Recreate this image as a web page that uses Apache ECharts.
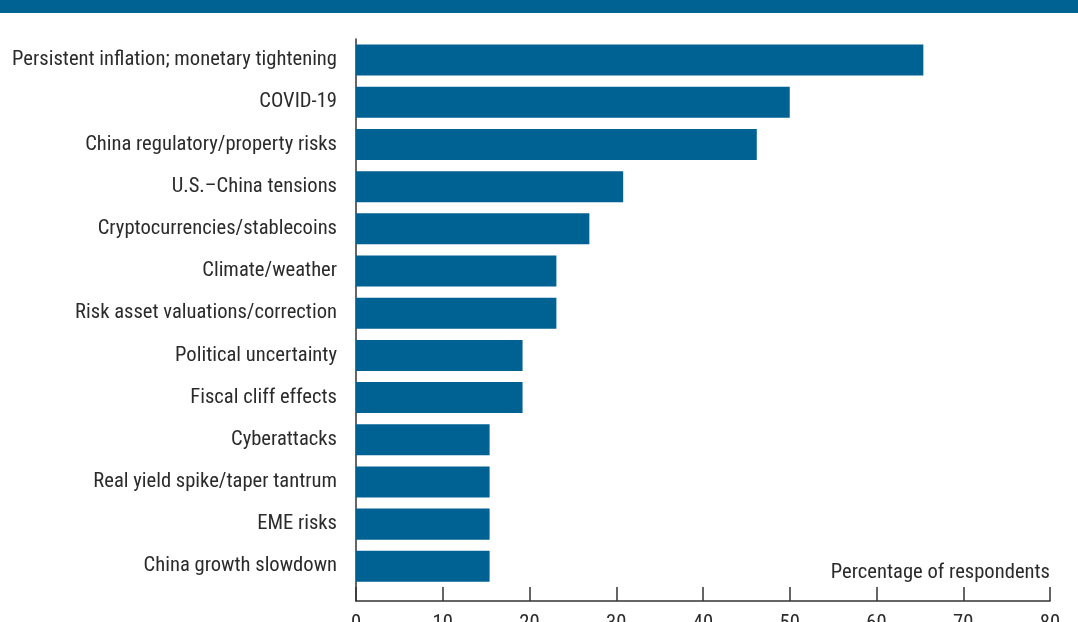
<!DOCTYPE html>
<html>
<head>
<meta charset="utf-8">
<script src="https://cdn.jsdelivr.net/npm/echarts@6/dist/echarts.min.js"></script>
<style>html,body{margin:0;padding:0;background:#fff;}#c{width:1078px;height:622px;}</style>
</head>
<body>
<div id="c"></div>
<script>
const categories = [
  "Persistent inflation; monetary tightening",
  "COVID-19",
  "China regulatory/property risks",
  "U.S.\u2013China tensions",
  "Cryptocurrencies/stablecoins",
  "Climate/weather",
  "Risk asset valuations/correction",
  "Political uncertainty",
  "Fiscal cliff effects",
  "Cyberattacks",
  "Real yield spike/taper tantrum",
  "EME risks",
  "China growth slowdown"
];
const values = [65.4, 50.0, 46.2, 30.8, 26.9, 23.1, 23.1, 19.2, 19.2, 15.4, 15.4, 15.4, 15.4];
const xTicks = [0, 10, 20, 30, 40, 50, 60, 70, 80];
const axisTitle = "Percentage of respondents";

const FONT = "'Liberation Sans Narrow', 'Roboto Condensed', 'Arial Narrow', sans-serif";
const BLUE = "#006193";
const TXT = "#2b2b2b";
const FS = 20.6;

const chart = echarts.init(document.getElementById('c'), null, {renderer: 'canvas'});
chart.setOption({
  animation: false,
  backgroundColor: '#fff',
  graphic: [{
    type: 'rect', left: 0, top: 0, shape: {width: 1078, height: 13}, style: {fill: BLUE}, silent: true
  }],
  title: {
    text: axisTitle, right: 23, top: 557,
    textStyle: {fontFamily: FONT, fontSize: FS, fontWeight: 'normal', color: TXT}
  },
  grid: [
    {left: 356, right: 28, top: 39, bottom: 34.6, containLabel: false, outerBoundsMode: 'none'},
    {left: 356, right: 28, top: 39, bottom: 21, containLabel: false, outerBoundsMode: 'none'}
  ],
  xAxis: [
    {gridIndex: 0, type: 'value', min: xTicks[0], max: xTicks[xTicks.length-1], interval: 10, show: false},
    {gridIndex: 1, type: 'value', min: xTicks[0], max: xTicks[xTicks.length-1], interval: 10,
     axisLine: {show: true, lineStyle: {color: '#333', width: 1.5}},
     axisTick: {show: true, inside: true, length: 14, lineStyle: {color: '#333', width: 1.5}},
     splitLine: {show: false},
     axisLabel: {margin: 12, fontFamily: FONT, fontSize: FS, color: TXT}}
  ],
  yAxis: [
    {gridIndex: 0, type: 'category', data: categories, inverse: true,
     axisLine: {show: false}, axisTick: {show: false},
     axisLabel: {margin: 19, fontFamily: FONT, fontSize: FS, color: TXT, padding: [4, 0, 0, 0]}},
    {gridIndex: 1, type: 'category', data: categories, inverse: true,
     axisLine: {show: true, lineStyle: {color: '#333', width: 1.5}}, axisTick: {show: false},
     axisLabel: {show: false}}
  ],
  series: [{
    type: 'bar', xAxisIndex: 0, yAxisIndex: 0, data: values,
    barWidth: '73.5%', itemStyle: {color: BLUE}
  }]
});
</script>
</body>
</html>
